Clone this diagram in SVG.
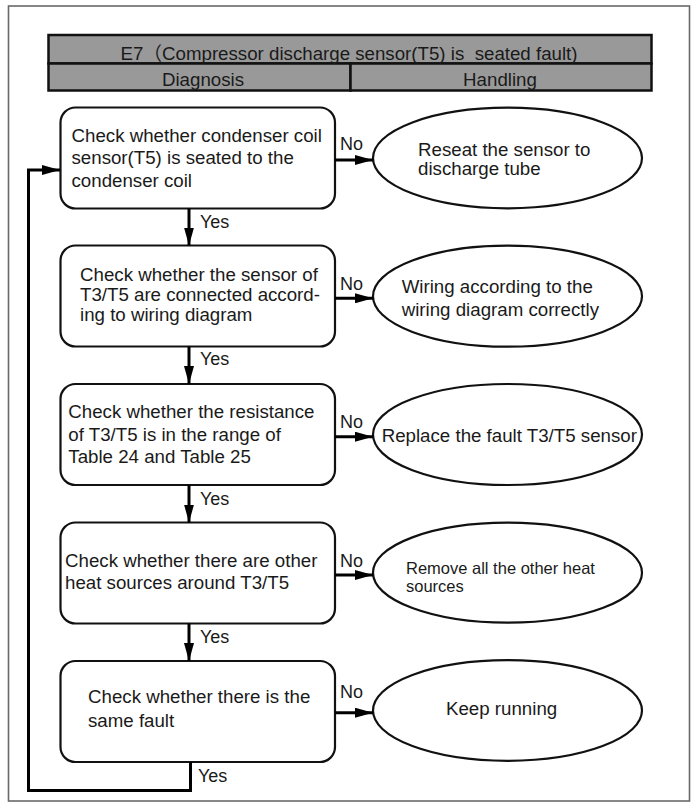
<svg xmlns="http://www.w3.org/2000/svg" width="693" height="803" viewBox="0 0 693 803">
<defs>
<style>
text{font-family:"Liberation Sans",Arial,"Noto Sans CJK SC",sans-serif;font-size:18.7px;fill:#1a1a1a}
.box{fill:#fff;stroke:#111;stroke-width:2.2}
.ell{fill:#fff;stroke:#111;stroke-width:2.2}
.hdr{fill:#999;stroke:#111;stroke-width:2.5}
.ln{fill:none;stroke:#000;stroke-width:3}
.lbl{font-size:18px}
.mid{text-anchor:middle}
</style>
<marker id="ah" markerUnits="userSpaceOnUse" markerWidth="18" markerHeight="10" refX="18" refY="5" orient="auto">
<path d="M0,0 L18,5 L0,10 z" fill="#000"/>
</marker>
</defs>
<rect width="693" height="803" fill="#fff"/>
<rect x="8.5" y="6" width="681" height="795" fill="none" stroke="#6a6a6a" stroke-width="1.6"/>

<g id="header">
<rect class="hdr" x="48.5" y="35" width="603" height="28.5"/>
<rect class="hdr" x="48.5" y="63.5" width="302" height="27"/>
<rect class="hdr" x="350.5" y="63.5" width="301" height="27"/>
<text class="mid" x="349" y="60">E7（Compressor discharge sensor(T5) is &#160;seated fault)</text>
<text class="mid" x="203" y="86">Diagnosis</text>
<text class="mid" x="500" y="86">Handling</text>
</g>

<g id="box1">
<rect class="box" x="60.5" y="107.5" width="274.5" height="101" rx="15"/>
<text x="71.5" y="141.7">Check whether condenser coil</text>
<text x="71.5" y="164.3">sensor(T5) is seated to the</text>
<text x="71.5" y="187">condenser coil</text>
</g>
<g id="box2">
<rect class="box" x="60.5" y="245.5" width="274.5" height="101" rx="15"/>
<text x="80" y="281">Check whether the sensor of</text>
<text x="80" y="301">T3/T5 are connected accord-</text>
<text x="80" y="320.5">ing to wiring diagram</text>
</g>
<g id="box3">
<rect class="box" x="60.5" y="384" width="274.5" height="101" rx="15"/>
<text x="68.3" y="418.3">Check whether the resistance</text>
<text x="68.3" y="440.8">of T3/T5 is in the range of</text>
<text x="68.3" y="463.3">Table 24 and Table 25</text>
</g>
<g id="box4">
<rect class="box" x="60.5" y="522.5" width="274.5" height="101" rx="15"/>
<text x="65" y="566.7">Check whether there are other</text>
<text x="65" y="589.3">heat sources around T3/T5</text>
</g>
<g id="box5">
<rect class="box" x="60.5" y="661" width="274.5" height="101" rx="15"/>
<text x="88" y="703">Check whether there is the</text>
<text x="88" y="726.5">same fault</text>
</g>

<g id="ell1">
<ellipse class="ell" cx="507.5" cy="158" rx="134.5" ry="50.3"/>
<text x="418" y="155.7">Reseat the sensor to</text>
<text x="418" y="175.3">discharge tube</text>
</g>
<g id="ell2">
<ellipse class="ell" cx="507.5" cy="296.2" rx="134.5" ry="50.5"/>
<text x="401.7" y="293.3">Wiring according to the</text>
<text x="401.7" y="316">wiring diagram correctly</text>
</g>
<g id="ell3">
<ellipse class="ell" cx="507.5" cy="434.5" rx="134.5" ry="50.5"/>
<text x="381.7" y="441.7">Replace the fault T3/T5 sensor</text>
</g>
<g id="ell4">
<ellipse class="ell" cx="507.5" cy="572.7" rx="134.5" ry="50"/>
<text x="406" y="574" style="font-size:16.5px">Remove all the other heat</text>
<text x="406" y="591.7" style="font-size:16.5px">sources</text>
</g>
<g id="ell5">
<ellipse class="ell" cx="507.5" cy="710.5" rx="134.5" ry="50.3"/>
<text x="446" y="715">Keep running</text>
</g>

<g id="connectors">
<line class="ln" x1="335" y1="160" x2="373" y2="160" marker-end="url(#ah)"/>
<line class="ln" x1="335" y1="298.3" x2="373" y2="298.3" marker-end="url(#ah)"/>
<line class="ln" x1="335" y1="436.7" x2="373" y2="436.7" marker-end="url(#ah)"/>
<line class="ln" x1="335" y1="575" x2="373" y2="575" marker-end="url(#ah)"/>
<line class="ln" x1="335" y1="712.7" x2="373" y2="712.7" marker-end="url(#ah)"/>
<line class="ln" x1="189" y1="208.5" x2="189" y2="245.5" marker-end="url(#ah)"/>
<line class="ln" x1="189" y1="346.5" x2="189" y2="384" marker-end="url(#ah)"/>
<line class="ln" x1="189" y1="485" x2="189" y2="522.5" marker-end="url(#ah)"/>
<line class="ln" x1="189" y1="623.5" x2="189" y2="661" marker-end="url(#ah)"/>
<polyline class="ln" points="190.5,762 190.5,790.5 28.5,790.5 28.5,170 60,170" marker-end="url(#ah)"/>
<text class="lbl" x="340" y="150">No</text>
<text class="lbl" x="340" y="290">No</text>
<text class="lbl" x="340" y="428">No</text>
<text class="lbl" x="340" y="566.7">No</text>
<text class="lbl" x="340" y="698">No</text>
<text class="lbl" x="200" y="228.3">Yes</text>
<text class="lbl" x="200" y="365">Yes</text>
<text class="lbl" x="200" y="505">Yes</text>
<text class="lbl" x="200" y="643.3">Yes</text>
<text class="lbl" x="198" y="781.7">Yes</text>
</g>
</svg>
